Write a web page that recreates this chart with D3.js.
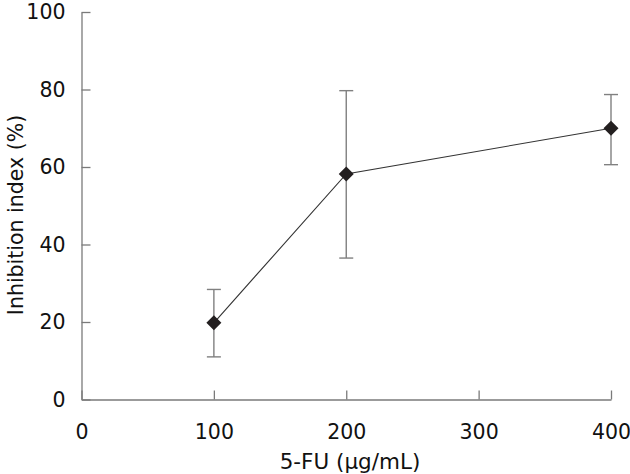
<!DOCTYPE html>
<html><head><meta charset="utf-8">
<script src="https://cdn.jsdelivr.net/npm/d3@7"></script>
<style>body{margin:0;background:#fff}svg{display:block}</style>
</head><body>
<script>
const doses = [100, 200, 400];
const meanVals = [19.8, 58.2, 70.0];
const lowerVals = [11.0, 36.5, 60.6];
const upperVals = [28.4, 79.7, 78.7];
const xTicks = [0, 100, 200, 300, 400];
const yTicks = [0, 20, 40, 60, 80, 100];

const W = 630, H = 474;
const svg = d3.select("body").append("svg").attr("width", W).attr("height", H);
const x = d3.scaleLinear().domain([0, 400]).range([81.5, 611]);
const y = d3.scaleLinear().domain([0, 100]).range([399.5, 12]);
const font = "DejaVu Sans, Verdana, sans-serif";
const axisCol = "#7a7a7a";

// axes
const xa = svg.append("g").attr("transform", `translate(0,${y(0)})`)
  .call(d3.axisBottom(x).tickValues(xTicks).tickSize(-9).tickPadding(25).tickSizeOuter(0));
const ya = svg.append("g").attr("transform", `translate(${x(0)},0)`)
  .call(d3.axisLeft(y).tickValues(yTicks).tickSize(-9).tickPadding(16).tickSizeOuter(0));
[xa, ya].forEach(a => {
  a.select(".domain").attr("stroke", axisCol).attr("stroke-width", 1.3);
  a.selectAll(".tick line").attr("stroke", axisCol).attr("stroke-width", 1.3);
  a.selectAll(".tick text").attr("fill", "#111").style("font-family", font).style("font-size", "20.5px");
});

const data = doses.map((d, i) => ({d, m: meanVals[i], lo: lowerVals[i], hi: upperVals[i]}));

// error bars
const eb = svg.append("g").attr("stroke", "#808080").attr("stroke-width", 1.4);
data.forEach(p => {
  eb.append("line").attr("x1", x(p.d)).attr("x2", x(p.d)).attr("y1", y(p.lo)).attr("y2", y(p.hi));
  [p.lo, p.hi].forEach(v => eb.append("line").attr("x1", x(p.d) - 7).attr("x2", x(p.d) + 7).attr("y1", y(v)).attr("y2", y(v)));
});

// line
svg.append("path").datum(data)
  .attr("d", d3.line().x(p => x(p.d)).y(p => y(p.m)))
  .attr("fill", "none").attr("stroke", "#333").attr("stroke-width", 1.1);

// markers
svg.selectAll(".pt").data(data).enter().append("path")
  .attr("transform", p => `translate(${x(p.d)},${y(p.m)})`)
  .attr("d", "M0,-7.5L7.5,0L0,7.5L-7.5,0Z")
  .attr("fill", "#231f20");

// titles
svg.append("text").attr("x", 350).attr("y", 469).attr("text-anchor", "middle")
  .style("font-family", font).style("font-size", "21.5px").attr("fill", "#111")
  .text("5-FU (μg/mL)");
svg.append("text").attr("transform", "translate(23,215) rotate(-90)").attr("text-anchor", "middle")
  .style("font-family", font).style("font-size", "20.5px").attr("fill", "#111")
  .text("Inhibition index (%)");
</script>
</body></html>
